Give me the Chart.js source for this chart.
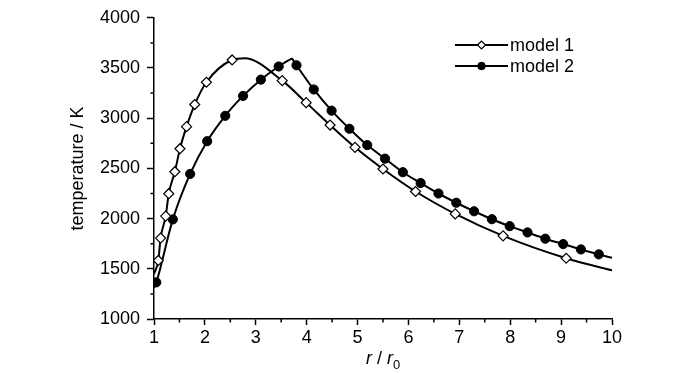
<!DOCTYPE html>
<html><head><meta charset="utf-8">
<script src="https://cdn.jsdelivr.net/npm/chart.js@4"></script>
<style>html,body{margin:0;padding:0;background:#fff}#wrap{width:700px;height:373px}</style>
</head><body><div id="wrap"><canvas id="c" width="700" height="373"></canvas></div>
<script>
const FONT = "'Liberation Sans Narrow','Arial Narrow','Liberation Sans',Arial,sans-serif";
const FS = 18;
const seriesNames = ['model 1', 'model 2'];
const xTitleParts = ['r', ' / ', 'r', '0'];
const yTitle = 'temperature / K';

// marker points
const model1X = [1.085, 1.13, 1.23, 1.29, 1.41, 1.51, 1.64, 1.80, 2.03, 2.535, 3.52, 3.99, 4.46, 4.95, 5.50, 6.14, 6.92, 7.86, 9.10];
const model1T = [1583, 1806, 2025, 2248, 2467, 2696, 2916, 3136, 3358, 3580, 3374, 3155, 2932, 2710, 2494, 2270, 2047, 1828, 1605];
const model2X = [1.045, 1.37, 1.71, 2.045, 2.40, 2.75, 3.10, 3.45, 3.80, 4.14, 4.49, 4.84, 5.19, 5.54, 5.89, 6.24, 6.59, 6.94, 7.29, 7.64, 7.99, 8.34, 8.69, 9.04, 9.39, 9.74];
const model2T = [1365, 1992, 2445, 2771, 3024, 3222, 3384, 3515, 3527, 3286, 3075, 2895, 2732, 2597, 2462, 2354, 2250, 2158, 2073, 1994, 1925, 1862, 1800, 1746, 1693, 1644];

// extra points (start, peak, end) where there is no marker
const model1CurveX = [1.0, 2.78, 10.0];
const model1CurveT = [1450, 3597, 1484];
const model2CurveX = [1.0, 3.71, 10.0];
const model2CurveT = [1310, 3597, 1609];

const xTicks = {min: 1, max: 10, step: 1};
const yTicks = {min: 1000, max: 4000, step: 500};
const xMinorTicks = [1.5, 2.5, 3.5, 4.5, 5.5, 6.5, 7.5, 8.5, 9.5];
const yMinorTicks = [1250, 1750, 2250, 2750, 3250, 3750];

function pts(xs, ys) { return xs.map((x, i) => ({x: x, y: ys[i]})); }
function merged(xs, ys, ex, ey) { return pts(xs, ys).concat(pts(ex, ey)).sort((a, b) => a.x - b.x); }

const line1 = merged(model1X, model1T, model1CurveX, model1CurveT);
const line2 = merged(model2X, model2T, model2CurveX, model2CurveT);
const peak2 = model2CurveX[1];
const line2a = line2.filter(p => p.x <= peak2);
const line2b = line2.filter(p => p.x >= peak2);

const markerStyles = [
  {pointStyle: 'rectRot', radius: 5, backgroundColor: '#fff', borderColor: '#000', borderWidth: 1.2},
  {pointStyle: 'circle', radius: 4.6, backgroundColor: '#000', borderColor: '#000', borderWidth: 1}
];

function lineDs(data, label) {
  return {label: label, data: data, showLine: true, borderColor: '#000', borderWidth: 2,
    pointRadius: 0, pointHoverRadius: 0, cubicInterpolationMode: 'monotone', fill: false, order: 2};
}
function markerDs(data, label, s) {
  return {label: label, data: data, showLine: false, pointStyle: s.pointStyle, pointRadius: s.radius,
    pointHoverRadius: s.radius, pointBackgroundColor: s.backgroundColor, pointBorderColor: s.borderColor,
    pointBorderWidth: s.borderWidth, order: 1};
}

const extras = {
  id: 'extras',
  afterDraw(chart) {
    const ctx = chart.ctx, xs = chart.scales.x, ys = chart.scales.y, a = chart.chartArea;
    ctx.save();
    ctx.strokeStyle = '#000';
    ctx.lineWidth = 1.5;
    ctx.beginPath();
    yMinorTicks.forEach(v => { const y = ys.getPixelForValue(v); ctx.moveTo(a.left - 3.5, y); ctx.lineTo(a.left, y); });
    xMinorTicks.forEach(v => { const x = xs.getPixelForValue(v); ctx.moveTo(x, a.bottom); ctx.lineTo(x, a.bottom + 3.5); });
    ctx.stroke();

    // legend
    seriesNames.forEach((name, i) => {
      const y = 45 + i * 21;
      ctx.beginPath();
      ctx.lineWidth = 2;
      ctx.strokeStyle = '#000';
      ctx.moveTo(455, y); ctx.lineTo(508, y); ctx.stroke();
      const s = markerStyles[i];
      ctx.fillStyle = s.backgroundColor; ctx.strokeStyle = s.borderColor; ctx.lineWidth = s.borderWidth;
      Chart.helpers.drawPoint(ctx, {pointStyle: s.pointStyle, radius: i === 0 ? 4 : 3.8, borderWidth: s.borderWidth}, 481.5, y);
      ctx.fillStyle = '#000';
      ctx.font = FS + 'px ' + FONT;
      ctx.textBaseline = 'middle';
      ctx.textAlign = 'left';
      ctx.fillText(name, 510, y + 1);
    });

    // x title: r / r0
    const fIt = 'italic ' + FS + 'px ' + FONT, fN = FS + 'px ' + FONT, fS = '13px ' + FONT;
    const fonts = [fIt, fN, fIt, fS];
    let w = 0;
    const ws = xTitleParts.map((t, i) => { ctx.font = fonts[i]; const m = ctx.measureText(t).width; w += m; return m; });
    let x = (a.left + a.right) / 2 - w / 2;
    ctx.textBaseline = 'alphabetic';
    ctx.fillStyle = '#000';
    xTitleParts.forEach((t, i) => {
      ctx.font = fonts[i];
      ctx.fillText(t, x, i === 3 ? 369 : 364);
      x += ws[i];
    });
    ctx.restore();
  }
};

new Chart(document.getElementById('c'), {
  type: 'scatter',
  data: {
    datasets: [
      lineDs(line1, seriesNames[0]),
      lineDs(line2a, seriesNames[1]),
      lineDs(line2b, seriesNames[1]),
      markerDs(pts(model1X, model1T), seriesNames[0], markerStyles[0]),
      markerDs(pts(model2X, model2T), seriesNames[1], markerStyles[1])
    ]
  },
  options: {
    responsive: false,
    animation: false,
    devicePixelRatio: 1,
    layout: {padding: {left: 62, right: 88, top: 11, bottom: 0}},
    plugins: {legend: {display: false}, tooltip: {enabled: false}},
    scales: {
      x: {
        type: 'linear', min: xTicks.min, max: xTicks.max,
        ticks: {stepSize: xTicks.step, color: '#000', font: {family: FONT, size: FS}, padding: 2, maxRotation: 0, autoSkip: false,
          callback: v => String(v)},
        grid: {drawOnChartArea: false, drawTicks: true, tickLength: 6, color: '#000', tickWidth: 1.5},
        border: {display: true, color: '#000', width: 1.5},
        afterFit(s) { s.height = 54; }
      },
      y: {
        type: 'linear', min: yTicks.min, max: yTicks.max,
        ticks: {stepSize: yTicks.step, color: '#000', font: {family: FONT, size: FS}, padding: 7, autoSkip: false,
          callback: v => String(v)},
        grid: {drawOnChartArea: false, drawTicks: true, tickLength: 7, color: '#000', tickWidth: 1.5},
        border: {display: true, color: '#000', width: 1.5},
        title: {display: true, text: yTitle, color: '#000', font: {family: FONT, size: FS}, padding: {top: 5, bottom: 0}},
        afterFit(s) { s.width = 92; }
      }
    }
  },
  plugins: [extras]
});
</script></body></html>
